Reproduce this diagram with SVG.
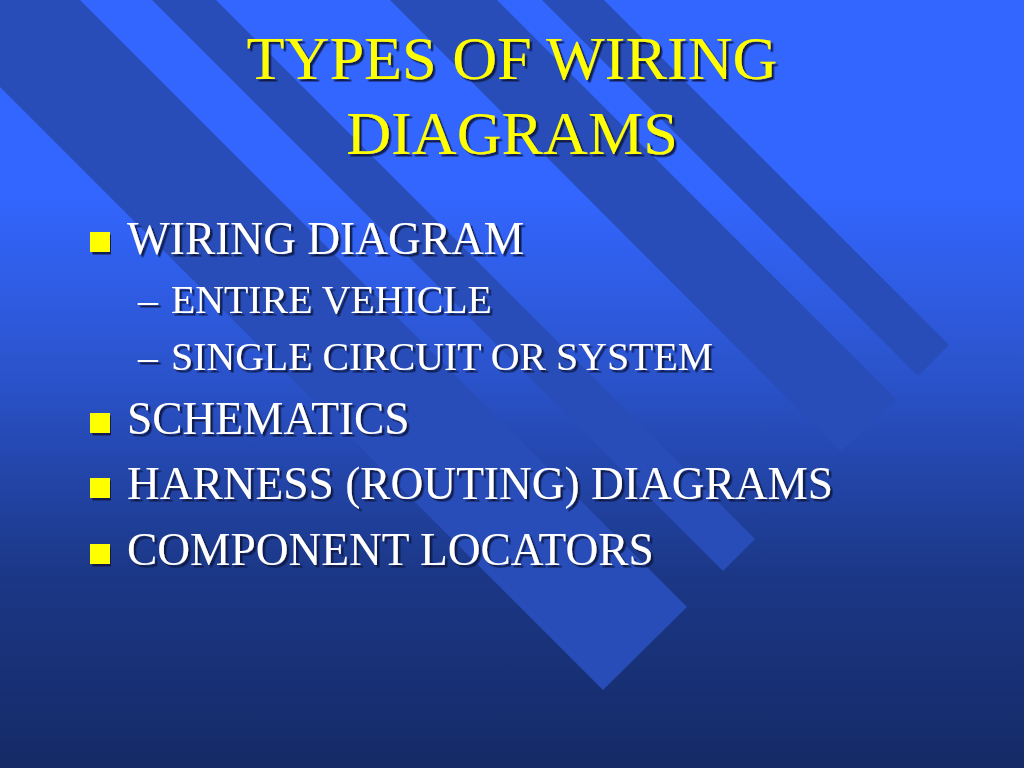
<svg xmlns="http://www.w3.org/2000/svg" width="1024" height="768" viewBox="0 0 1024 768">
<style>
text{font-family:"Liberation Serif","Times New Roman",serif;filter:url(#sh)}
.t{font-size:62.2px;fill:#ffff00;text-anchor:middle}
.b{font-size:45.4px;fill:#ffffff}
.s{font-size:39.8px;fill:#ffffff}
.st{fill:#284db8}
.bu{fill:#ffff00;filter:url(#sh)}
</style>
<defs>
<linearGradient id="bg" x1="0" y1="0" x2="0" y2="1">
<stop offset="0" stop-color="#3366ff"/><stop offset="0.25" stop-color="#3366ff"/><stop offset="0.5" stop-color="#2a52c8"/><stop offset="0.75" stop-color="#1b3786"/><stop offset="1" stop-color="#152a66"/>
</linearGradient>
<filter id="sh" x="-5%" y="-20%" width="110%" height="140%"><feDropShadow dx="2.5" dy="2.5" stdDeviation="0.6" flood-color="#0a1440" flood-opacity="0.9"/></filter>
</defs>
<rect id="background" width="1024" height="768" fill="url(#bg)"/>
<g id="stripes">
<polygon class="st" points="0,87 603,690 687,607 80,0 0,0"/>
<polygon class="st" points="152,0 723,571 755,539 216,0"/>
<polygon class="st" points="390,0 841,452 896,399 497,0"/>
<polygon class="st" points="542,0 918,376 949,345 604,0"/>
</g>
<g id="title"><text class="t" x="512" y="79">TYPES OF WIRING</text><text class="t" x="512" y="154">DIAGRAMS</text></g>
<g id="item-wiring"><rect class="bu" x="90" y="232" width="20" height="20"/><text class="b" x="127" y="254">WIRING DIAGRAM</text></g>
<g id="item-entire"><text class="s" y="313"><tspan x="138">–</tspan><tspan x="171">ENTIRE VEHICLE</tspan></text></g>
<g id="item-single"><text class="s" y="370"><tspan x="138">–</tspan><tspan x="171">SINGLE CIRCUIT OR SYSTEM</tspan></text></g>
<g id="item-schematics"><rect class="bu" x="90" y="413" width="20" height="20"/><text class="b" x="127" y="434">SCHEMATICS</text></g>
<g id="item-harness"><rect class="bu" x="90" y="478" width="20" height="20"/><text class="b" x="127" y="499">HARNESS (ROUTING) DIAGRAMS</text></g>
<g id="item-component"><rect class="bu" x="90" y="544" width="20" height="20"/><text class="b" x="127" y="565">COMPONENT LOCATORS</text></g>
</svg>
